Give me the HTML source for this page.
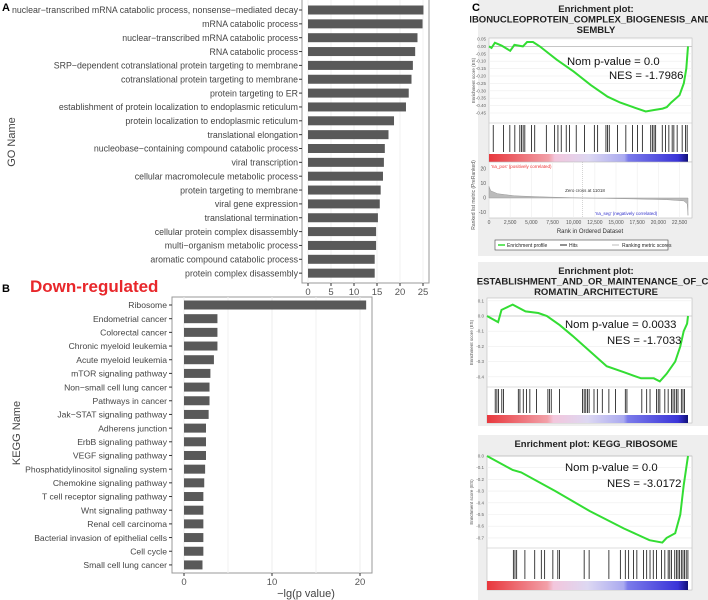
<!DOCTYPE html>
<html><head><meta charset="utf-8"><style>
html,body{margin:0;padding:0;background:#fff;}
svg{display:block;font-family:"Liberation Sans",Arial,sans-serif;}
</style></head><body>
<svg id="fig" width="708" height="600" viewBox="0 0 708 600" xmlns="http://www.w3.org/2000/svg"></svg>
<script>
// ---- Panel A data ----
const goNames=["nuclear−transcribed mRNA catabolic process, nonsense−mediated decay","mRNA catabolic process","nuclear−transcribed mRNA catabolic process","RNA catabolic process","SRP−dependent cotranslational protein targeting to membrane","cotranslational protein targeting to membrane","protein targeting to ER","establishment of protein localization to endoplasmic reticulum","protein localization to endoplasmic reticulum","translational elongation","nucleobase−containing compound catabolic process","viral transcription","cellular macromolecule metabolic process","protein targeting to membrane","viral gene expression","translational termination","cellular protein complex disassembly","multi−organism metabolic process","aromatic compound catabolic process","protein complex disassembly"];
const goValues=[25.1,24.9,23.8,23.3,22.8,22.5,21.9,21.3,18.7,17.5,16.7,16.5,16.3,15.8,15.6,15.2,14.8,14.8,14.5,14.5];
const goTicks=[0,5,10,15,20,25];
// ---- Panel B data ----
const keggNames=["Ribosome","Endometrial cancer","Colorectal cancer","Chronic myeloid leukemia","Acute myeloid leukemia","mTOR signaling pathway","Non−small cell lung cancer","Pathways in cancer","Jak−STAT signaling pathway","Adherens junction","ErbB signaling pathway","VEGF signaling pathway","Phosphatidylinositol signaling system","Chemokine signaling pathway","T cell receptor signaling pathway","Wnt signaling pathway","Renal cell carcinoma","Bacterial invasion of epithelial cells","Cell cycle","Small cell lung cancer"];
const keggValues=[20.7,3.8,3.8,3.8,3.4,3.0,2.9,2.9,2.8,2.5,2.5,2.5,2.4,2.3,2.2,2.2,2.2,2.2,2.2,2.1];
const keggTicks=[0,10,20];
// ---- Panel C data ----
const es1Rank=[0,300,700,1500,2500,3000,4000,4500,5200,6000,8000,10000,12000,14000,15500,17000,18500,19500,20500,21000,21500,22500,23000,23300,23500];
const es1Val=[0,-0.01,0.025,0.005,-0.03,0.01,0,0.03,0.03,0,-0.09,-0.17,-0.26,-0.34,-0.38,-0.41,-0.44,-0.43,-0.42,-0.41,-0.38,-0.33,-0.25,-0.15,0];
const hits1=[500,1700,2460,3050,3640,3830,4030,4230,5010,5400,6770,7750,8140,8530,9120,9510,10300,11270,12440,12830,13810,14000,14200,15180,16160,16940,17530,18110,19100,19290,19490,19680,20460,20850,21240,21630,21830,22220,22810,23200,23400];
const es2Rank=[0,1300,1700,3000,4500,6000,7000,8500,10000,12000,14000,16000,18000,19500,20200,21000,22000,22600,23000,23400,23500];
const es2Val=[0,-0.04,0.04,0.075,0.03,0.02,0,-0.06,-0.13,-0.23,-0.33,-0.37,-0.41,-0.41,-0.43,-0.38,-0.3,-0.2,-0.1,-0.05,0];
const hits2=[960,1155,1350,1730,1925,3660,3850,4240,4620,5010,5780,7120,7320,7510,8470,11170,11360,11550,11740,11940,12510,12900,13480,14250,15020,16170,16360,18100,18670,19060,19830,20020,20210,20790,21180,21560,21750,21950,22140,22330,22720,22910,23100];
const es3Rank=[0,3000,4000,8000,12000,16000,19000,20500,21000,22000,22600,23000,23500];
const es3Val=[0,-0.12,-0.14,-0.3,-0.47,-0.62,-0.72,-0.74,-0.7,-0.66,-0.5,-0.25,0];
const hits3=[3080,3270,3470,4430,5580,6350,6740,7700,8280,8470,11360,11940,14250,15590,16170,16560,17130,17520,18290,18670,19060,19440,19830,20400,20790,21180,21370,21560,21950,22140,22330,22520,22720,22910,23100,23290,23490];
const metricRank=[0,200,1000,3000,6000,11018,17000,21000,23000,23400,23500];
const metricVal=[8,5,3,1.5,0.8,0,-0.6,-1.2,-2,-4,-12];
const es1Ticks=[0.05,0,-0.05,-0.1,-0.15,-0.2,-0.25,-0.3,-0.35,-0.4,-0.45];
const es2Ticks=[0.1,0,-0.1,-0.2,-0.3,-0.4];
const es3Ticks=[0,-0.1,-0.2,-0.3,-0.4,-0.5,-0.6,-0.7];
const rankTicks=[0,2500,5000,7500,10000,12500,15000,17500,20000,22500];
const metricTicks=[20,10,0,-10];

const NS="http://www.w3.org/2000/svg";
const svg=document.getElementById('fig');
function mk(tag,attrs,parent,text){const e=document.createElementNS(NS,tag);for(const k in attrs)e.setAttribute(k,attrs[k]);if(text!==undefined)e.textContent=text;(parent||svg).appendChild(e);return e;}

// ===== Panel A =====
const gA=mk('g',{});


const aX=v=>308+v*4.6, aY=i=>10+i*13.85;
mk('rect',{x:302,y:-1,width:127,height:284,fill:'#fff',stroke:'#999','stroke-width':1},gA);
goTicks.forEach(t=>{
  mk('line',{x1:aX(t),x2:aX(t),y1:0,y2:283,stroke:'#f0f0f0'},gA);
  mk('line',{x1:aX(t),x2:aX(t),y1:283,y2:286,stroke:'#333'},gA);
  const tx=mk('text',{x:aX(t),y:295,'font-size':9.5,fill:'#555','text-anchor':'middle'},gA,t);
  
  
});
goNames.forEach((n,i)=>{
  const r=mk('rect',{x:aX(0),y:aY(i)-4.5,width:aX(goValues[i])-aX(0),height:9,fill:'#595959'},gA);
  
  
  mk('line',{x1:299,x2:302,y1:aY(i),y2:aY(i),stroke:'#333'},gA);
  const t=mk('text',{x:298,y:aY(i)+3.2,'font-size':8.8,fill:'#444','text-anchor':'end'},gA,n);
  
  
});
const ay=mk('text',{x:0,y:0,'font-size':11,fill:'#444','text-anchor':'middle',transform:'translate(15,142) rotate(-90)'},gA,'GO Name');


const la=mk('text',{x:2,y:11,'font-size':11,'font-weight':'bold',fill:'#000'},svg,'A');



// ===== Panel B =====
const gB=mk('g',{});


const bX=v=>184+v*8.8, bY=i=>305+i*13.68;
mk('rect',{x:172,y:297,width:200,height:276,fill:'#fff',stroke:'#999'},gB);
[5,15].forEach(t=>mk('line',{x1:bX(t),x2:bX(t),y1:297,y2:573,stroke:'#f2f2f2'},gB));
keggTicks.forEach(t=>{
  mk('line',{x1:bX(t),x2:bX(t),y1:297,y2:573,stroke:'#ececec'},gB);
  mk('line',{x1:bX(t),x2:bX(t),y1:573,y2:576,stroke:'#333'},gB);
  const tx=mk('text',{x:bX(t),y:585,'font-size':9.5,fill:'#555','text-anchor':'middle'},gB,t);
  
  
});
keggNames.forEach((n,i)=>{
  const r=mk('rect',{x:bX(0),y:bY(i)-4.5,width:bX(keggValues[i])-bX(0),height:9,fill:'#595959'},gB);
  
  
  mk('line',{x1:169,x2:172,y1:bY(i),y2:bY(i),stroke:'#333'},gB);
  const t=mk('text',{x:167,y:bY(i)+3.2,'font-size':8.6,fill:'#444','text-anchor':'end'},gB,n);
  
  
});
const by=mk('text',{x:0,y:0,'font-size':11,fill:'#444','text-anchor':'middle',transform:'translate(20,433) rotate(-90)'},gB,'KEGG Name');


const bxT=mk('text',{x:306,y:597,'font-size':11,fill:'#444','text-anchor':'middle'},gB,'−lg(p value)');


const lb=mk('text',{x:2,y:292,'font-size':11,'font-weight':'bold',fill:'#000'},svg,'B');


const dr=mk('text',{x:30,y:292,'font-size':17,'font-weight':'bold',fill:'#e8272b'},svg,'Down-regulated');



// ===== Panel C =====
const defs=mk('defs',{});
const gr=mk('linearGradient',{id:'rb',x1:0,x2:1,y1:0,y2:0},defs);
[['0','#e8383d'],['0.3','#f2a0a8'],['0.33','#f3c6dc'],['0.5','#ddd8f2'],['0.68','#aaaaf0'],['0.7','#7b7bea'],['0.95','#3a34d8'],['1','#101078']].forEach(s=>mk('stop',{offset:s[0],'stop-color':s[1]},gr));
const cp=mk('clipPath',{id:'cclip'},defs);
mk('rect',{x:470,y:0,width:238,height:600},cp);

function gsea(cfg){
  const g=mk('g',{'clip-path':'url(#cclip)'});
  
  
  mk('rect',{x:478,y:cfg.boxTop,width:230,height:cfg.boxH,fill:'#eeeeee'},g);
  cfg.title.forEach((t,i)=>{
    const tt=mk('text',{x:596,y:cfg.boxTop+12+i*10.5,'font-size':9.5,'font-weight':'bold',fill:'#222','text-anchor':'middle'},g,t);
    
    
  });
  const x0=cfg.x0,x1=cfg.x1;
  const rX=r=>x0+r/23500*(x1-x0);
  const esY=v=>cfg.y0+(v-cfg.v0)*cfg.k;
  mk('rect',{x:x0,y:cfg.esTop,width:x1-x0+4,height:cfg.gradBot-cfg.esTop,fill:'#fff',stroke:'#bbb','stroke-width':0.6},g);
  cfg.ticks.forEach(t=>{
    mk('line',{x1:x0,x2:x1+4,y1:esY(t),y2:esY(t),stroke:'#eee','stroke-width':0.6},g);
    const tl=mk('text',{x:x0-3,y:esY(t)+1.5,'font-size':4.5,fill:'#666','text-anchor':'end'},g,t.toFixed(cfg.dec));
    
    
  });
  mk('line',{x1:x0,x2:x1+4,y1:esY(0),y2:esY(0),stroke:'#aaa','stroke-width':0.6},g);
  const yl=mk('text',{x:0,y:0,'font-size':4.5,fill:'#555','text-anchor':'middle',transform:`translate(${x0-14},${(cfg.esTop+cfg.hitTop)/2}) rotate(-90)`},g,'Enrichment score (ES)');
  
  
  mk('line',{x1:x0,x2:x1+4,y1:cfg.hitTop,y2:cfg.hitTop,stroke:'#bbb','stroke-width':0.6},g);
  cfg.hits.forEach(h=>{
    const l=mk('line',{x1:rX(h),x2:rX(h),y1:cfg.hitTop+2,y2:cfg.gradTop-2,stroke:'#111','stroke-width':0.8},g);
    
    
  });
  const gb=mk('rect',{x:x0,y:cfg.gradTop,width:x1-x0,height:cfg.gradBot-cfg.gradTop,fill:'url(#rb)'},g);
  
  
  const d=cfg.rank.map((r,i)=>(i?'L':'M')+rX(r).toFixed(1)+','+esY(cfg.val[i]).toFixed(1)).join(' ');
  const p=mk('path',{d:d,fill:'none',stroke:'#33dd33','stroke-width':2},g);
  
  
  const t1=mk('text',{x:x0+78,y:cfg.nomY,'font-size':11.3,fill:'#111'},g,cfg.nom);
  
  
  const t2=mk('text',{x:x0+120,y:cfg.nomY+cfg.gap,'font-size':11.3,fill:'#111'},g,cfg.nes);
  
  
  return {g,rX};
}

const c1=gsea({name:'enrichment-plot-ribonucleoprotein',boxTop:0,boxH:256,title:['Enrichment plot:','RIBONUCLEOPROTEIN_COMPLEX_BIOGENESIS_AND_AS','SEMBLY'],x0:489,x1:688,esTop:38,hitTop:123,gradTop:154,gradBot:162,y0:39,v0:0.05,k:-148,ticks:es1Ticks,dec:2,rank:es1Rank,val:es1Val,hits:hits1,nom:'Nom p-value = 0.0',nes:'NES = -1.7986',nomY:65,gap:14});
(function(){
  const g=c1.g, rX=c1.rX;
  const mY=v=>198-v*1.45;
  mk('rect',{x:489,y:162,width:203,height:56,fill:'#fff',stroke:'#bbb','stroke-width':0.6},g);
  rankTicks.forEach(t=>{
    mk('line',{x1:rX(t),x2:rX(t),y1:162,y2:218,stroke:'#eee','stroke-width':0.6},g);
    const tl=mk('text',{x:rX(t),y:224,'font-size':5,fill:'#555','text-anchor':'middle'},g,t.toLocaleString('en-US'));
    
    
  });
  metricTicks.forEach(t=>{
    const tl=mk('text',{x:486,y:mY(t)+1.5,'font-size':5,fill:'#555','text-anchor':'end'},g,t);
    
    
  });
  const d='M'+rX(0)+','+mY(0)+' '+metricRank.map((r,i)=>'L'+rX(r).toFixed(1)+','+Math.max(163,Math.min(217,mY(metricVal[i]))).toFixed(1)).join(' ')+' L'+rX(23500)+','+mY(0)+'Z';
  const a=mk('path',{d:d,fill:'#bbb',stroke:'#999','stroke-width':0.5},g);
  
  
  mk('line',{x1:rX(11018),x2:rX(11018),y1:162,y2:218,stroke:'#aaa','stroke-width':0.5,'stroke-dasharray':'1,1'},g);
  mk('text',{x:585,y:192,'font-size':4.5,fill:'#333','text-anchor':'middle'},g,'Zero cross at 11018');
  mk('text',{x:491,y:168,'font-size':4.5,fill:'#e33'},g,"'na_pos' (positively correlated)");
  mk('text',{x:595,y:215,'font-size':4.5,fill:'#33c'},g,"'na_seg' (negatively correlated)");
  const xt=mk('text',{x:590,y:233,'font-size':6,fill:'#333','text-anchor':'middle'},g,'Rank in Ordered Dataset');
  
  
  const yt=mk('text',{x:0,y:0,'font-size':5,fill:'#555','text-anchor':'middle',transform:'translate(475,195) rotate(-90)'},g,'Ranked list metric (PreRanked)');
  
  
  const lg=mk('g',{},g);
  
  
  mk('rect',{x:495,y:240,width:173,height:10,fill:'#fff',stroke:'#444','stroke-width':0.6},lg);
  mk('line',{x1:498,x2:505,y1:245,y2:245,stroke:'#33dd33','stroke-width':1.5},lg);
  mk('text',{x:507,y:247,'font-size':5,fill:'#222'},lg,'Enrichment profile');
  mk('line',{x1:560,x2:567,y1:245,y2:245,stroke:'#222','stroke-width':1},lg);
  mk('text',{x:569,y:247,'font-size':5,fill:'#222'},lg,'Hits');
  mk('line',{x1:612,x2:619,y1:245,y2:245,stroke:'#bbb','stroke-width':1},lg);
  mk('text',{x:622,y:247,'font-size':5,fill:'#222'},lg,'Ranking metric scores');
})();
gsea({name:'enrichment-plot-chromatin',boxTop:262,boxH:164,title:['Enrichment plot:','ESTABLISHMENT_AND_OR_MAINTENANCE_OF_CH','ROMATIN_ARCHITECTURE'],x0:487,x1:688,esTop:298,hitTop:387,gradTop:415,gradBot:423,y0:316,v0:0,k:-152,ticks:es2Ticks,dec:1,rank:es2Rank,val:es2Val,hits:hits2,nom:'Nom p-value = 0.0033',nes:'NES = -1.7033',nomY:328,gap:16});
gsea({name:'enrichment-plot-kegg-ribosome',boxTop:435,boxH:165,title:['Enrichment plot: KEGG_RIBOSOME'],x0:487,x1:688,esTop:456,hitTop:548,gradTop:581,gradBot:590,y0:456,v0:0,k:-117,ticks:es3Ticks,dec:1,rank:es3Rank,val:es3Val,hits:hits3,nom:'Nom p-value = 0.0',nes:'NES = -3.0172',nomY:471,gap:16});

const lc=mk('text',{x:472,y:11,'font-size':11,'font-weight':'bold',fill:'#000'},svg,'C');


</script>
</body></html>
